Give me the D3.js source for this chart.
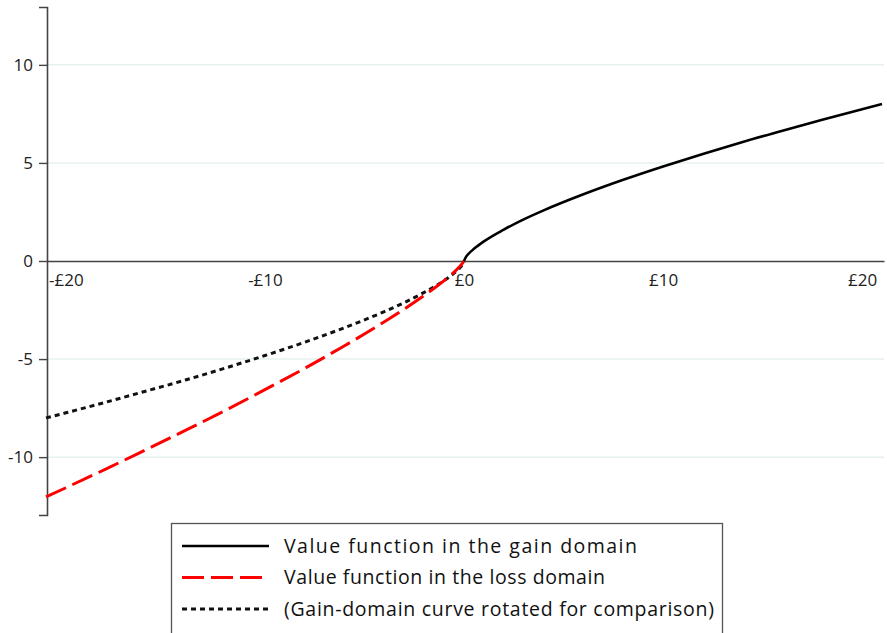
<!DOCTYPE html>
<html>
<head>
<meta charset="utf-8">
<script src="https://cdn.jsdelivr.net/npm/d3@7"></script>
<style>
  body { margin: 0; background: #fff; }
  svg { display: block; }
</style>
</head>
<body>
<div id="chart"></div>
<script>
// valeurs (en £ et en unités de valeur)
var gainX = [0, 0.1, 0.25, 0.5, 1, 2, 3, 4, 6, 8, 10, 12, 14, 16, 18, 20, 21];
var gainY = [0, 0.21, 0.39, 0.62, 1, 1.6, 2.12, 2.58, 3.4, 4.14, 4.82, 5.46, 6.07, 6.64, 7.2, 7.74, 8.0];

var lossX = [0, -0.1, -0.25, -0.5, -1, -2, -3, -4, -6, -8, -10, -12, -14, -16, -18, -20, -21];
var lossY = [0, -0.15, -0.32, -0.57, -1, -1.76, -2.45, -3.1, -4.32, -5.47, -6.56, -7.62, -8.64, -9.63, -10.61, -11.56, -12.03];

// courbe des gains tournée (comparaison)
var rotX = [0, -0.1, -0.25, -0.5, -1, -2, -3, -4, -6, -8, -10, -12, -14, -16, -18, -20, -21];
var rotY = [0, -0.21, -0.39, -0.62, -1, -1.6, -2.12, -2.58, -3.4, -4.14, -4.82, -5.46, -6.07, -6.64, -7.2, -7.74, -8.0];

var xTicks = [-20, -10, 0, 10, 20];
var xTickLabels = ["-£20", "-£10", "£0", "£10", "£20"];
var yTicks = [-10, -5, 0, 5, 10];
var yTickLabels = ["-10", "-5", "0", "5", "10"];

var legendLabels = [
    "Value function in the gain domain",
    "Value function in the loss domain",
    "(Gain-domain curve rotated for comparison)"
];
var legendWidths = [353, 321, 430]; // largeur du texte mesurée sur l'image

var width = 887,
    height = 633;

var svg = d3.select("#chart").append("svg")
    .attr("width", width)
    .attr("height", height);

var x = d3.scaleLinear().domain([-20.95, 21.1]).range([47, 884]);
var y = d3.scaleLinear().domain([-12.95, 12.95]).range([515, 7]);

var font = "'Open Sans', Lato, sans-serif";

// grille
svg.selectAll(".grid")
    .data(yTicks.filter(function(d) { return d !== 0; }))
    .enter().append("line")
    .attr("x1", x.range()[0]).attr("x2", x.range()[1])
    .attr("y1", function(d) { return y(d); })
    .attr("y2", function(d) { return y(d); })
    .attr("stroke", "#e6f0f1")
    .attr("stroke-width", 1.5);

// axe y
var yAxis = svg.append("g")
    .attr("transform", "translate(" + x.range()[0] + ",0)")
    .call(d3.axisLeft(y).tickValues(yTicks).tickSize(8).tickPadding(6)
        .tickFormat(function(d, i) { return yTickLabels[i]; }));
yAxis.select(".domain").attr("stroke", "#444").attr("stroke-width", 1.6);
yAxis.selectAll(".tick line").attr("stroke", "#444").attr("stroke-width", 1.4);
yAxis.selectAll(".tick text")
    .attr("font-family", font).attr("font-size", 17).attr("fill", "#222");

// axe x (à y = 0)
var xAxis = svg.append("g")
    .attr("transform", "translate(0," + y(0) + ")")
    .call(d3.axisBottom(x).tickValues(xTicks).tickSize(0).tickPadding(13)
        .tickFormat(function(d, i) { return xTickLabels[i]; }));
xAxis.select(".domain").attr("stroke", "#444").attr("stroke-width", 1.6);
xAxis.selectAll(".tick text")
    .attr("font-family", font).attr("font-size", 17).attr("fill", "#222");

var line = d3.line()
    .x(function(d) { return x(d[0]); })
    .y(function(d) { return y(d[1]); })
    .curve(d3.curveMonotoneX);

var rotData = d3.zip(rotX, rotY).reverse();
var lossData = d3.zip(lossX, lossY).reverse();
var gainData = d3.zip(gainX, gainY);

svg.append("path")
    .datum(rotData)
    .attr("d", line)
    .attr("fill", "none")
    .attr("stroke", "#111")
    .attr("stroke-width", 3)
    .attr("stroke-dasharray", "5,4");

svg.append("path")
    .datum(lossData)
    .attr("d", line)
    .attr("fill", "none")
    .attr("stroke", "#ff0000")
    .attr("stroke-width", 3)
    .attr("stroke-dasharray", "22,7");

svg.append("path")
    .datum(gainData)
    .attr("d", line)
    .attr("fill", "none")
    .attr("stroke", "#000")
    .attr("stroke-width", 2.6);

// légende
var legend = svg.append("g");
legend.append("rect")
    .attr("x", 171.5).attr("y", 523.5)
    .attr("width", 551).attr("height", 120)
    .attr("fill", "#fff")
    .attr("stroke", "#555")
    .attr("stroke-width", 1.3);

var legendStyles = [
    { color: "#000", dash: null, w: 2.6 },
    { color: "#ff0000", dash: "22,7", w: 3 },
    { color: "#111", dash: "5,4", w: 3 }
];

legendLabels.forEach(function(lbl, i) {
    var ly = 546 + i * 31.5;
    legend.append("line")
        .attr("x1", 182).attr("x2", 269)
        .attr("y1", ly).attr("y2", ly)
        .attr("stroke", legendStyles[i].color)
        .attr("stroke-width", legendStyles[i].w)
        .attr("stroke-dasharray", legendStyles[i].dash);
    legend.append("text")
        .attr("x", 284).attr("y", ly)
        .attr("dy", "0.35em")
        .attr("font-family", font)
        .attr("font-size", 19.5)
        .attr("fill", "#111")
        .attr("textLength", legendWidths[i])
        .attr("lengthAdjust", "spacing")
        .text(lbl);
});
</script>
</body>
</html>
